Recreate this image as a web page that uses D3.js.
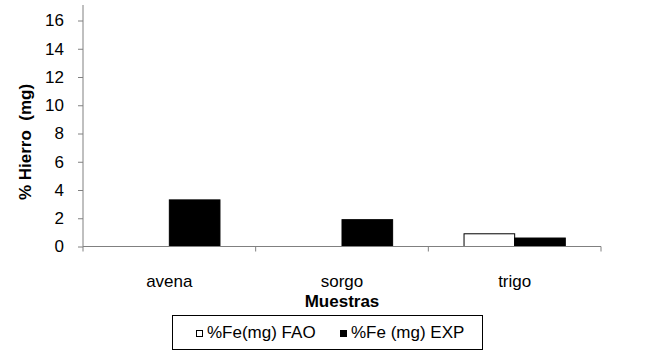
<!DOCTYPE html>
<html><head><meta charset="utf-8">
<script src="https://cdn.jsdelivr.net/npm/d3@7"></script>
<style>
html,body{margin:0;padding:0;background:#fff;}
text{font-family:"Liberation Sans",Arial,sans-serif;fill:#000;}
</style></head>
<body><svg id="c" width="657" height="351"></svg>
<script>
const categories = ["avena","sorgo","trigo"];
const seriesNames = ["%Fe(mg) FAO","%Fe (mg) EXP"];
const faoValues = [0, 0, 0.9];
const expValues = [3.3, 1.9, 0.6];
const yTicks = [0,2,4,6,8,10,12,14,16];
const seriesFills = ["#ffffff","#000000"];

const svg = d3.select("#c");
const L = 83, R = 601, T = 20.5, B = 246.5;
const axisColor = "#808080";

const x0 = d3.scaleBand().domain(categories).range([L, R]).padding(0);
const x1 = d3.scaleBand().domain(seriesNames).range([0, x0.bandwidth()]).paddingInner(0).paddingOuter(0.705);
const y = d3.scaleLinear().domain([0,16]).range([B, T]);

// y axis
const yAxis = svg.append("g").attr("transform", `translate(${L},0)`)
  .call(d3.axisLeft(y).tickValues(yTicks).tickSize(5).tickPadding(14).tickSizeOuter(0));
yAxis.select(".domain").remove();
yAxis.append("line").attr("x1",0).attr("x2",0).attr("y1",5).attr("y2",B).attr("stroke",axisColor);
yAxis.selectAll(".tick line").attr("stroke",axisColor);
yAxis.selectAll(".tick text").attr("font-size",17).attr("font-family","Liberation Sans, Arial, sans-serif").attr("fill","#000");

// bars
const data = categories.map((c,i)=>({cat:c, vals:[faoValues[i], expValues[i]]}));
const groups = svg.append("g").selectAll("g").data(data).join("g")
  .attr("transform", d=>`translate(${x0(d.cat)},0)`);
groups.selectAll("rect").data(d=>d.vals.map((v,j)=>({v, s:seriesNames[j], j})).filter(e=>e.v>0))
  .join("rect")
  .attr("x", e=>x1(e.s)).attr("width", x1.bandwidth())
  .attr("y", e=>y(e.v)).attr("height", e=>B - y(e.v))
  .attr("fill", e=>seriesFills[e.j]).attr("stroke","#000").attr("stroke-width",1);

// x axis
const xAxis = svg.append("g").attr("transform", `translate(0,${B})`);
xAxis.append("line").attr("x1",L).attr("x2",R).attr("y1",0).attr("y2",0).attr("stroke",axisColor);
const bounds = categories.map(c=>x0(c)).concat([R]);
xAxis.selectAll("line.t").data(bounds).join("line").attr("class","t")
  .attr("x1",d=>d).attr("x2",d=>d).attr("y1",0).attr("y2",5).attr("stroke",axisColor);
xAxis.selectAll("text").data(categories).join("text")
  .attr("x", c=>x0(c)+x0.bandwidth()/2).attr("y", 40)
  .attr("text-anchor","middle").attr("font-size",17).text(c=>c);

// axis titles
svg.append("text").attr("x",(L+R)/2).attr("y",307).attr("text-anchor","middle")
  .attr("font-size",17).attr("font-weight","bold").text("Muestras");
svg.append("text").attr("transform","translate(31,142) rotate(-90)")
  .attr("text-anchor","middle").attr("font-size",17).attr("font-weight","bold")
  .style("white-space","pre").text("% Hierro  (mg)");

// legend
const lg = svg.append("g");
lg.append("rect").attr("x",172.5).attr("y",315.5).attr("width",310).attr("height",34)
  .attr("fill","#fff").attr("stroke","#000").attr("stroke-width",1);
const legX = [196, 340];
seriesNames.forEach((s,i)=>{
  lg.append("rect").attr("x",legX[i]+0.5).attr("y",330.5).attr("width",6).attr("height",6)
    .attr("fill",seriesFills[i]).attr("stroke","#000");
  lg.append("text").attr("x",legX[i]+11).attr("y",338).attr("font-size",17).text(s);
});
</script></body></html>
